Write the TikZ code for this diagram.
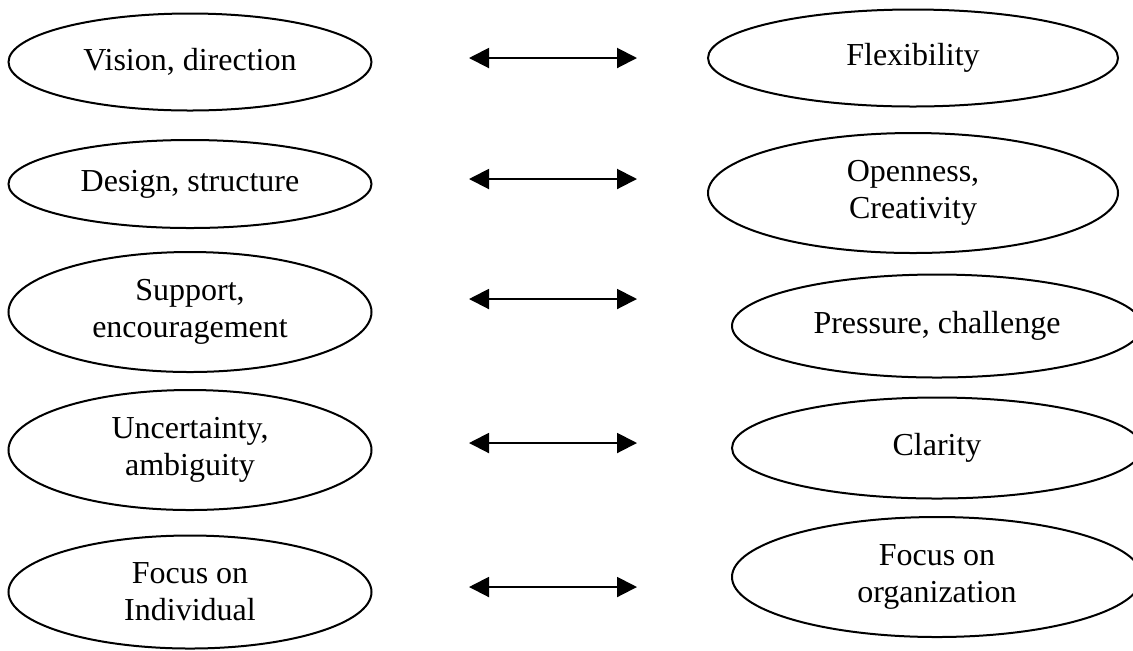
\documentclass[tikz,border=0pt]{standalone}
\usepackage{fontspec}
\setmainfont{Liberation Serif}
\usepackage{tikz}
\usetikzlibrary{positioning, arrows.meta}
\usetikzlibrary{shapes,shapes.geometric}

\begin{document}
\begin{tikzpicture}[x=0.5pt, y=-0.5pt,
		oval/.style={ellipse, draw, line width=1pt, inner sep=0pt, align=center, minimum width=181.5pt, font=\fontsize{16}{18.5}\selectfont},
		wide/.style={minimum width=205pt},
		pair/.style={{Triangle[length=10pt,width=10pt]}-{Triangle[length=10pt,width=10pt]}, line width=1pt}]
		\useasboundingbox (0,0) rectangle (1133,650);
		\clip (0,0) rectangle (1133,650);
		
		% left column
		\node[oval, minimum height=48.5pt] (v1) at (190,62) {Vision, direction};
		\node[oval, below of = v1, node distance=61pt, minimum height=44pt] (v2) {Design, structure};
		\node[oval, below of = v2, node distance=64pt, minimum height=60pt] (v3) {Support,\\encouragement};
		\node[oval, below of = v3, node distance=69pt, minimum height=60pt] (v4) {Uncertainty,\\ambiguity};
		\node[oval, below of = v4, node distance=71pt, minimum height=56.5pt] (v5) {Focus on\\Individual};
		
		% right column
		\node[oval, wide, minimum height=48.5pt] (w1) at (913,58) {Flexibility};
		\node[oval, wide, below of = w1, node distance=67.5pt, minimum height=60pt] (w2) {Openness,\\Creativity};
		\node[oval, wide, below of = w2, node distance=66.5pt, xshift=12pt, minimum height=51.5pt] (w3) {Pressure, challenge};
		\node[oval, wide, below of = w3, node distance=61pt, minimum height=50.5pt] (w4) {Clarity};
		\node[oval, wide, below of = w4, node distance=64.5pt, minimum height=60pt] (w5) {Focus on\\organization};
		
		% arrows between
		\coordinate (a1) at (469,58);
		\coordinate (b1) at (637,58);
		\coordinate (a2) at (469,179);
		\coordinate (b2) at (637,179);
		\coordinate (a3) at (469,299);
		\coordinate (b3) at (637,299);
		\coordinate (a4) at (469,443);
		\coordinate (b4) at (637,443);
		\coordinate (a5) at (469,587);
		\coordinate (b5) at (637,587);
		
		\draw[pair] (a1) -- (b1);
		\draw[pair] (a2) -- (b2);
		\draw[pair] (a3) -- (b3);
		\draw[pair] (a4) -- (b4);
		\draw[pair] (a5) -- (b5);
	\end{tikzpicture}
\end{document}
